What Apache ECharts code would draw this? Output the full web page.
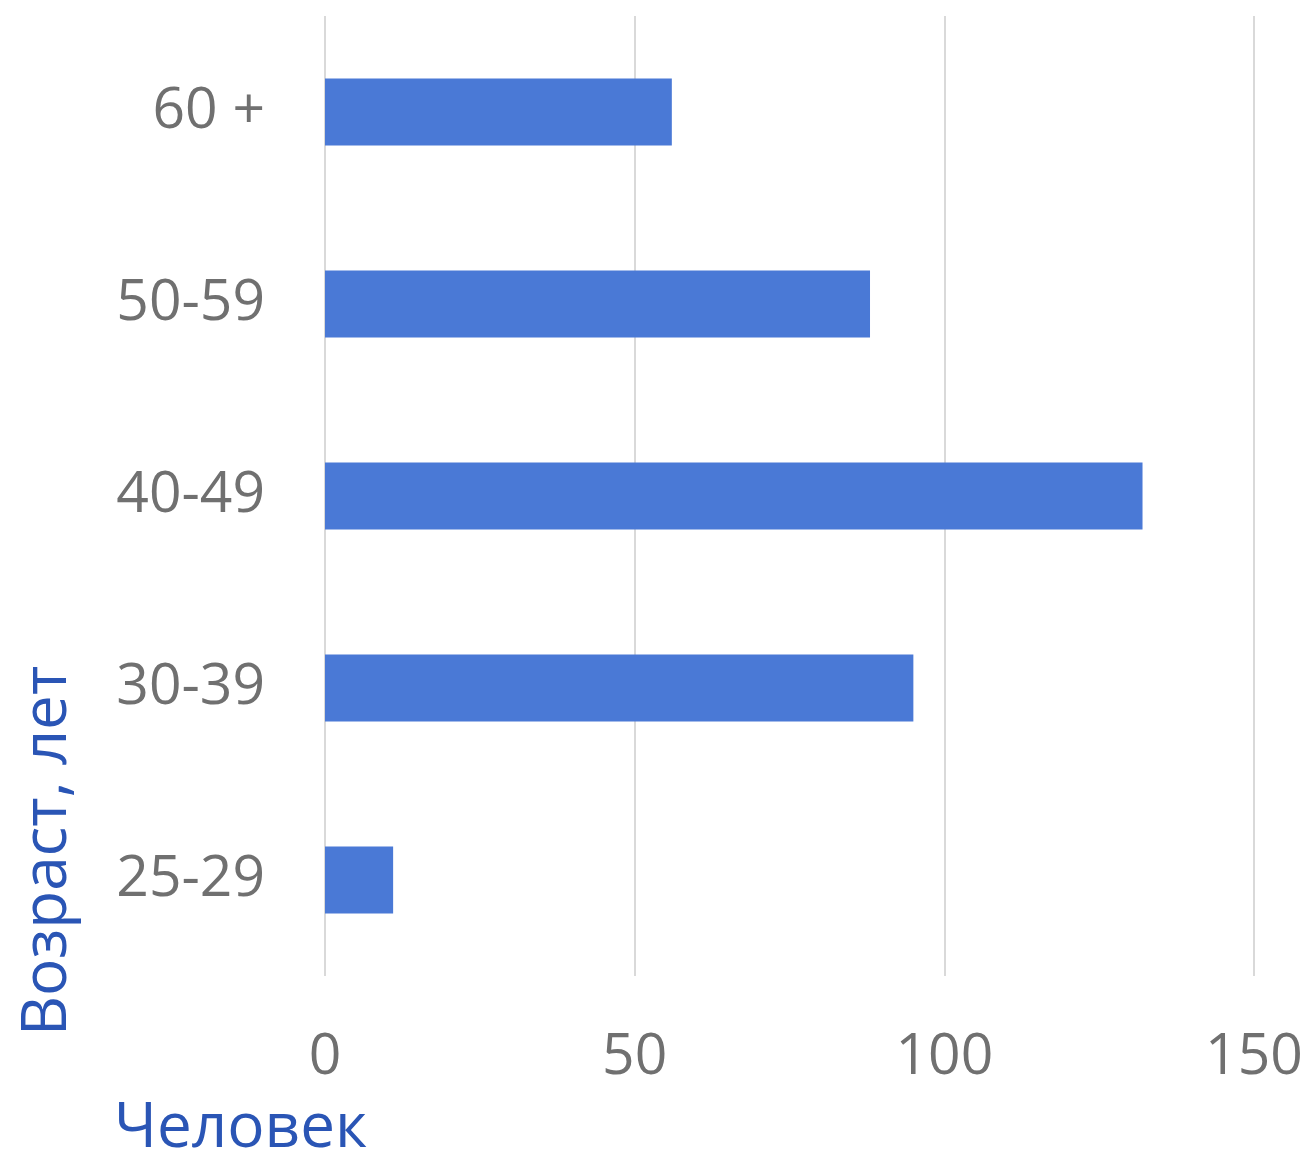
<!DOCTYPE html>
<html><head><meta charset="utf-8">
<script src="https://cdn.jsdelivr.net/npm/echarts@6/dist/echarts.min.js"></script>
<style>html,body{margin:0;padding:0;background:#fff}#c{width:1309px;height:1154px}</style>
</head><body><div id="c"></div>
<script>
const categories = ['25-29', '30-39', '40-49', '50-59', '60 +'];
const values = [11, 95, 132, 88, 56];
const xTicks = [0, 50, 100, 150];
const xTitle = 'Человек';
const yTitle = 'Возраст, лет';

const chart = echarts.init(document.getElementById('c'));
const FONT = '"Open Sans", sans-serif';
chart.setOption({
  backgroundColor: '#fff',
  animation: false,
  grid: { left: 325, right: 55, top: 16, bottom: 178 },
  xAxis: {
    type: 'value', min: xTicks[0], max: xTicks[xTicks.length - 1], interval: 50,
    axisLine: { show: false }, axisTick: { show: false },
    splitLine: { show: true, lineStyle: { color: '#d9d9d9', width: 2 } },
    axisLabel: { color: '#707070', fontSize: 57, fontFamily: FONT, margin: 53 }
  },
  yAxis: {
    type: 'category', data: categories,
    axisLine: { show: false }, axisTick: { show: false },
    axisLabel: { color: '#707070', fontSize: 57, fontFamily: FONT, margin: 60 }
  },
  series: [{
    type: 'bar', data: values, barWidth: '35%',
    itemStyle: { color: '#4a79d6' }
  }],
  graphic: [
    { type: 'text', left: 114, top: 1098,
      style: { text: xTitle, fill: '#2a55b5', font: '62px "Open Sans", sans-serif' } },
    { type: 'text', x: 48, y: 851, rotation: Math.PI / 2,
      style: { text: yTitle, fill: '#2a55b5', font: '62px "Open Sans", sans-serif', align: 'center', verticalAlign: 'middle' } }
  ]
});
</script></body></html>
